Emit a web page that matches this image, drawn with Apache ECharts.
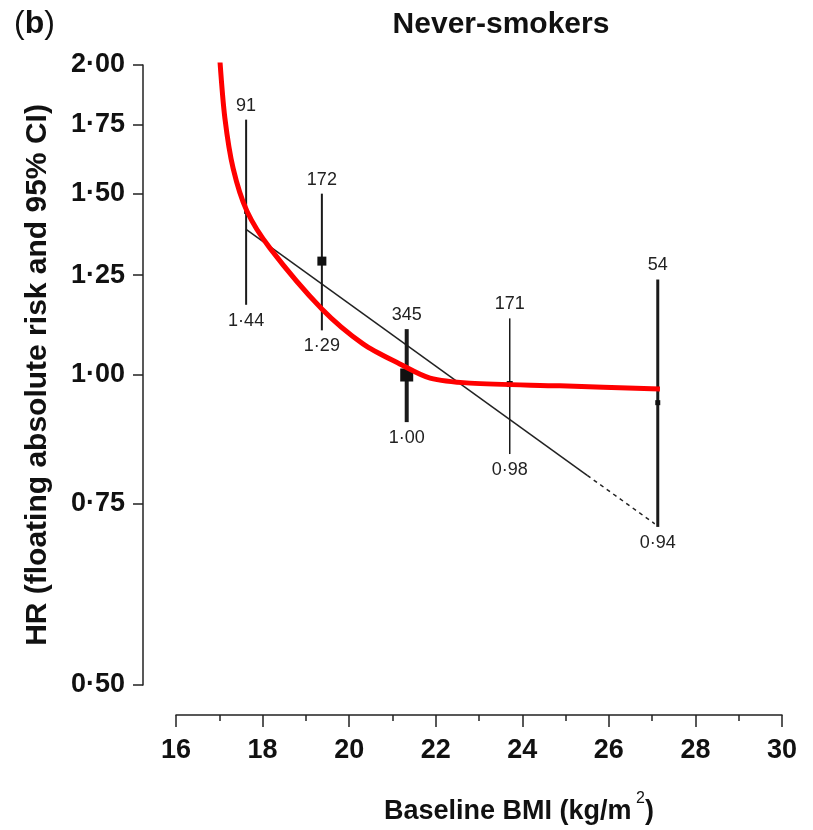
<!DOCTYPE html>
<html>
<head>
<meta charset="utf-8">
<script src="https://cdn.jsdelivr.net/npm/echarts@6/dist/echarts.min.js"></script>
<style>
  html, body { margin: 0; padding: 0; background: #fff; }
  #chart { width: 813px; height: 830px; }
</style>
</head>
<body>
<div id="chart"></div>
<script>
// Baseline BMI groups: hazard ratio, 95% CI and number of deaths
const bmi = [17.62, 19.37, 21.33, 23.71, 27.13];
const hr = [1.44, 1.29, 1.00, 0.98, 0.94];
const ciLow = [1.17, 1.105, 0.90, 0.838, 0.712];
const ciHigh = [1.77, 1.50, 1.108, 1.135, 1.238];
const deaths = [91, 172, 345, 171, 54];

// Fitted log-linear trend (solid part, then extrapolated dashed part)
const trendSolid = [[17.62, 1.385], [25.5, 0.799]];
const trendDashed = [[25.5, 0.799], [27.06, 0.717]];

// Smooth red curve
const curveBmi = [17.016, 17.13, 17.32, 17.64, 18.17, 19.37, 20.32, 21.17, 21.87, 22.79, 24.87, 27.18];
const curveHr = [2.016, 1.775, 1.587, 1.442, 1.328, 1.159, 1.072, 1.025, 0.993, 0.982, 0.976, 0.969];

// Axis ticks
const xTicks = [16, 18, 20, 22, 24, 26, 28, 30];
const yTicks = [0.50, 0.75, 1.00, 1.25, 1.50, 1.75, 2.00];

// Styling of each CI bar and its square marker
const ciWidth = [2, 2, 4, 1.5, 3];
const markSize = [4, 9, 13, 6, 5];

const FONT = '"Liberation Sans", Arial, Helvetica, sans-serif';
const dotFmt = v => Number(v).toFixed(2).replace('.', '\u00b7');

const ciData = bmi.map((x, i) => [x, ciLow[i], ciHigh[i], hr[i], deaths[i]]);
const curveData = curveBmi.map((x, i) => [x, curveHr[i]]);

const chart = echarts.init(document.getElementById('chart'), null, { renderer: 'canvas' });

chart.setOption({
  animation: false,
  backgroundColor: '#ffffff',
  grid: { left: 176, right: 31, top: 65, bottom: 145, containLabel: false },
  graphic: [
    {
      type: 'text', left: 14, top: 8,
      style: {
        text: '{p|(}{b|b}{p|)}',
        rich: {
          p: { fontFamily: FONT, fontSize: 32, fontWeight: 'normal', fill: '#111' },
          b: { fontFamily: FONT, fontSize: 32, fontWeight: 'bold', fill: '#111' }
        }
      }
    },
    {
      type: 'text', x: 501, y: 25,
      style: {
        text: 'Never-smokers', textAlign: 'center', textVerticalAlign: 'middle',
        fontFamily: FONT, fontSize: 30, fontWeight: 'bold', fill: '#111'
      }
    },
    {
      type: 'text', x: 519, y: 808,
      style: {
        text: '{t|Baseline BMI (kg/m}{s| 2}{t|)}',
        textAlign: 'center', textVerticalAlign: 'middle',
        rich: {
          t: { fontFamily: FONT, fontSize: 27, fontWeight: 'bold', fill: '#111', lineHeight: 34, verticalAlign: 'bottom' },
          s: { fontFamily: FONT, fontSize: 16, fontWeight: 'normal', fill: '#111', lineHeight: 34, verticalAlign: 'top' }
        }
      }
    }
  ],
  xAxis: {
    type: 'value', min: 16, max: 30, interval: 2,
    offset: 30,
    splitLine: { show: false },
    axisLine: { show: true, onZero: false, lineStyle: { color: '#222', width: 1.5 } },
    axisTick: { show: true, length: 12, lineStyle: { color: '#222', width: 1.5 }, customValues: xTicks },
    minorTick: { show: true, splitNumber: 2, length: 6, lineStyle: { color: '#222', width: 1.5 } },
    axisLabel: {
      customValues: xTicks, margin: 22,
      fontFamily: FONT, fontSize: 27, fontWeight: 'bold', color: '#111'
    }
  },
  yAxis: {
    type: 'log', logBase: 2, min: 0.5, max: 2,
    offset: 33,
    name: 'HR (floating absolute risk and 95% CI)',
    nameLocation: 'middle', nameGap: 90,
    nameTextStyle: { fontFamily: FONT, fontSize: 30, fontWeight: 'bold', color: '#111' },
    splitLine: { show: false },
    axisLine: { show: true, lineStyle: { color: '#222', width: 1.5 } },
    axisTick: { show: true, length: 10, lineStyle: { color: '#222', width: 1.5 }, customValues: yTicks },
    minorTick: { show: false },
    axisLabel: {
      customValues: yTicks, margin: 18,
      formatter: v => dotFmt(v),
      fontFamily: FONT, fontSize: 27, fontWeight: 'bold', color: '#111'
    }
  },
  series: [
    {
      name: 'trend', type: 'line', data: trendSolid,
      showSymbol: false, symbol: 'none',
      lineStyle: { color: '#222', width: 1.5 }, z: 2
    },
    {
      name: 'trend-extrapolated', type: 'line', data: trendDashed,
      showSymbol: false, symbol: 'none',
      lineStyle: { color: '#222', width: 1.5, type: [4, 4] }, z: 2
    },
    {
      name: 'ci', type: 'custom', data: ciData,
      encode: { x: 0, y: [1, 2, 3] },
      z: 3,
      renderItem: (params, api) => {
        const i = params.dataIndex;
        const x = api.value(0);
        const pTop = api.coord([x, api.value(2)]);
        const pBot = api.coord([x, api.value(1)]);
        const pEst = api.coord([x, api.value(3)]);
        const w = ciWidth[i], s = markSize[i];
        return {
          type: 'group',
          children: [
            { type: 'line', shape: { x1: pTop[0], y1: pTop[1], x2: pBot[0], y2: pBot[1] },
              style: { stroke: '#1a1a1a', lineWidth: w } },
            { type: 'rect', shape: { x: pEst[0] - s / 2, y: pEst[1] - s / 2, width: s, height: s },
              style: { fill: '#111' } },
            { type: 'text', x: pTop[0], y: pTop[1] - 5,
              style: { text: String(api.value(4)), textAlign: 'center', textVerticalAlign: 'bottom',
                       fontFamily: FONT, fontSize: 18, fill: '#222' } },
            { type: 'text', x: pBot[0], y: pBot[1] + 7,
              style: { text: dotFmt(api.value(3)), textAlign: 'center', textVerticalAlign: 'top',
                       fontFamily: FONT, fontSize: 18, fill: '#222' } }
          ]
        };
      }
    },
    {
      name: 'curve', type: 'line', data: curveData,
      smooth: 0.3,
      showSymbol: false, symbol: 'none', clip: true,
      lineStyle: { color: '#ff0000', width: 5 }, z: 5
    }
  ]
});
</script>
</body>
</html>
